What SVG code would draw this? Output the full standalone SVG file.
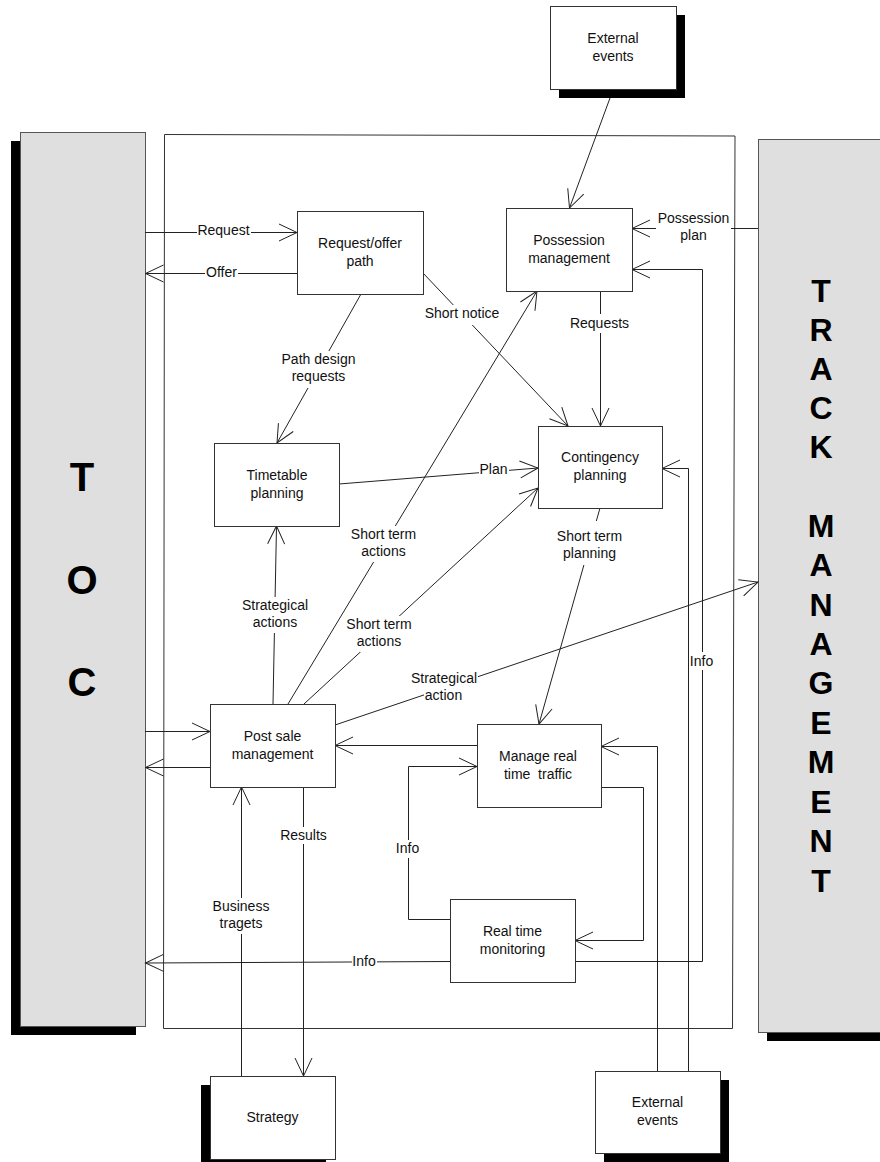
<svg xmlns="http://www.w3.org/2000/svg" width="880" height="1162" viewBox="0 0 880 1162">
<defs>
<style>
.box{fill:#fff;stroke:#333;stroke-width:1}
.shadow{fill:#000}
.panel{fill:#dfdfdf;stroke:#555;stroke-width:1}
.frame{fill:none;stroke:#333;stroke-width:1}
.t{font-family:"Liberation Sans",Arial,sans-serif;font-size:14px;fill:#111;text-anchor:middle;white-space:pre}
.big{font-family:"Liberation Sans",Arial,sans-serif;font-weight:bold;fill:#000;text-anchor:middle}
.c{fill:none;stroke:#222;stroke-width:1}
.a{marker-end:url(#ah)}
.bg{fill:#fff}
</style>
<marker id="ah" markerUnits="userSpaceOnUse" markerWidth="1" markerHeight="1" orient="auto" style="overflow:visible">
<path d="M-18,-8.5 L0,0 L-18,8.5" fill="none" stroke="#222" stroke-width="1"/>
</marker>
</defs>
<rect x="0" y="0" width="880" height="1162" fill="#fff"/>

<!-- side panels -->
<g id="toc">
<rect class="shadow" x="11" y="141" width="125" height="894"/>
<rect class="panel" x="20.5" y="132.5" width="125" height="894"/>
<text class="big" font-size="40" x="82" y="491">T</text>
<text class="big" font-size="40" x="82" y="594">O</text>
<text class="big" font-size="40" x="82" y="696">C</text>
</g>
<g id="track-management">
<rect class="shadow" x="767" y="148" width="125" height="893"/>
<rect class="panel" x="758.5" y="139.5" width="125" height="893"/>
<g class="big" font-size="32">
<text x="821" y="302">T</text>
<text x="821" y="341">R</text>
<text x="821" y="380">A</text>
<text x="821" y="419">C</text>
<text x="821" y="458">K</text>
<text x="821" y="537">M</text>
<text x="821" y="576">A</text>
<text x="821" y="616">N</text>
<text x="821" y="655">A</text>
<text x="821" y="694">G</text>
<text x="821" y="734">E</text>
<text x="821" y="773">M</text>
<text x="821" y="813">E</text>
<text x="821" y="852">N</text>
<text x="821" y="892">T</text>
</g>
</g>

<!-- boundary of the infrastructure manager -->
<polygon id="frame" class="frame" points="164.5,134.5 735,136 732.5,1028.5 163.5,1028.5"/>

<g id="connectors">
<line class="c a" x1="610" y1="98" x2="569.5" y2="208"/>
<line class="c a" x1="145" y1="232.5" x2="297" y2="232.5"/>
<line class="c a" x1="297" y1="273.5" x2="145.5" y2="273.5"/>
<line class="c a" x1="758" y1="228.5" x2="632" y2="228.5"/>
<polyline class="c a" points="575,961.5 702.5,961.5 702.5,269.5 632,269.5"/>
<line class="c a" x1="600.5" y1="291" x2="600.5" y2="426"/>
<line class="c a" x1="423" y1="273" x2="568" y2="426"/>
<line class="c a" x1="361" y1="294" x2="277" y2="443"/>
<line class="c a" x1="339" y1="484" x2="538" y2="468"/>
<line class="c a" x1="288" y1="704" x2="537" y2="291"/>
<line class="c a" x1="304" y1="704" x2="538" y2="488"/>
<line class="c a" x1="273" y1="704" x2="276.5" y2="526"/>
<line class="c a" x1="335" y1="725" x2="758" y2="582"/>
<polyline class="c a" points="688.5,1071 688.5,468.5 662,468.5"/>
<line class="c a" x1="600" y1="508" x2="539" y2="724"/>
<line class="c a" x1="477" y1="745.5" x2="335" y2="745.5"/>
<line class="c a" x1="145" y1="731.5" x2="210" y2="731.5"/>
<line class="c a" x1="210" y1="767.5" x2="145.5" y2="767.5"/>
<polyline class="c a" points="657.5,1071 657.5,746.5 601,746.5"/>
<polyline class="c a" points="601,787.5 643.5,787.5 643.5,940.5 575,940.5"/>
<polyline class="c a" points="450,919.5 408.5,919.5 408.5,766.5 477,766.5"/>
<line class="c a" x1="450" y1="961.5" x2="145.5" y2="963"/>
<line class="c a" x1="241.5" y1="1076" x2="241.5" y2="787"/>
<line class="c a" x1="303.5" y1="787" x2="303.5" y2="1076"/>

<!-- connector labels, each over a blank strip that breaks its line -->
<g id="labels">
<rect class="bg" x="197" y="223" width="54" height="16"/>
<text class="t" x="223.5" y="235">Request</text>
<rect class="bg" x="205" y="265" width="33" height="16"/>
<text class="t" x="221.5" y="277">Offer</text>
<rect class="bg" x="656" y="211" width="75" height="18"/>
<rect class="bg" x="679" y="229" width="29" height="16"/>
<text class="t" x="693.5" y="223">Possession</text>
<text class="t" x="693.5" y="240">plan</text>
<rect class="bg" x="424" y="305" width="77" height="20"/>
<text class="t" x="462" y="318">Short notice</text>
<rect class="bg" x="569" y="314" width="61" height="19"/>
<text class="t" x="599.5" y="328">Requests</text>
<rect class="bg" x="281" y="351" width="76" height="17"/>
<rect class="bg" x="291" y="368" width="55" height="20"/>
<text class="t" x="318.5" y="364">Path design</text>
<text class="t" x="318.5" y="381">requests</text>
<rect class="bg" x="479" y="461" width="30" height="16"/>
<text class="t" x="493.5" y="474">Plan</text>
<rect class="bg" x="350" y="526" width="67" height="17"/>
<rect class="bg" x="359" y="543" width="49" height="19"/>
<text class="t" x="383.5" y="539">Short term</text>
<text class="t" x="383.5" y="556">actions</text>
<rect class="bg" x="241" y="597" width="68" height="17"/>
<rect class="bg" x="250" y="614" width="50" height="19"/>
<text class="t" x="275" y="610">Strategical</text>
<text class="t" x="275" y="627">actions</text>
<rect class="bg" x="345" y="616" width="68" height="17"/>
<rect class="bg" x="354" y="633" width="50" height="19"/>
<text class="t" x="379" y="629">Short term</text>
<text class="t" x="379" y="646">actions</text>
<rect class="bg" x="410" y="670" width="68" height="17"/>
<rect class="bg" x="424" y="687" width="39" height="17"/>
<text class="t" x="444" y="683">Strategical</text>
<text class="t" x="443.5" y="700">action</text>
<rect class="bg" x="556" y="521" width="67" height="25"/>
<rect class="bg" x="562" y="546" width="55" height="19"/>
<text class="t" x="589.5" y="541">Short term</text>
<text class="t" x="589.5" y="558">planning</text>
<rect class="bg" x="691" y="652" width="22" height="18"/>
<text class="t" x="701.5" y="666">Info</text>
<rect class="bg" x="395" y="840" width="25" height="18"/>
<text class="t" x="407.5" y="853">Info</text>
<rect class="bg" x="352" y="953" width="25" height="17"/>
<text class="t" x="364" y="966">Info</text>
<rect class="bg" x="212" y="898" width="59" height="17"/>
<rect class="bg" x="215" y="915" width="53" height="19"/>
<text class="t" x="241" y="911">Business</text>
<text class="t" x="241" y="928">tragets</text>
<rect class="bg" x="279" y="827" width="49" height="17"/>
<text class="t" x="303.5" y="840">Results</text>
</g>
</g>

<!-- process boxes -->
<g id="external-events-top">
<rect class="shadow" x="559" y="15" width="126" height="83"/>
<rect class="box" x="550.5" y="6.5" width="126" height="83"/>
<text class="t" x="613" y="43">External</text>
<text class="t" x="613" y="61">events</text>
</g>
<g id="request-offer-path">
<rect class="box" x="297.5" y="211.5" width="126" height="83"/>
<text class="t" x="360" y="248">Request/offer</text>
<text class="t" x="360" y="266">path</text>
</g>
<g id="possession-management">
<rect class="box" x="506.5" y="208.5" width="126" height="83"/>
<text class="t" x="569" y="245">Possession</text>
<text class="t" x="569" y="263">management</text>
</g>
<g id="timetable-planning">
<rect class="box" x="214.5" y="443.5" width="125" height="83"/>
<text class="t" x="277" y="480">Timetable</text>
<text class="t" x="277" y="498">planning</text>
</g>
<g id="contingency-planning">
<rect class="box" x="538.5" y="426.5" width="124" height="82"/>
<text class="t" x="600" y="462">Contingency</text>
<text class="t" x="600" y="480">planning</text>
</g>
<g id="post-sale-management">
<rect class="box" x="210.5" y="704.5" width="125" height="83"/>
<text class="t" x="272.5" y="741">Post sale</text>
<text class="t" x="272.5" y="759">management</text>
</g>
<g id="manage-real-time-traffic">
<rect class="box" x="477.5" y="724.5" width="124" height="83"/>
<text class="t" x="538" y="761">Manage real</text>
<text class="t" x="538" y="779">time  traffic</text>
</g>
<g id="real-time-monitoring">
<rect class="box" x="450.5" y="899.5" width="125" height="83"/>
<text class="t" x="512.5" y="936">Real time</text>
<text class="t" x="512.5" y="954">monitoring</text>
</g>
<g id="strategy">
<rect class="shadow" x="201" y="1085" width="125" height="83"/>
<rect class="box" x="210.5" y="1076.5" width="125" height="83"/>
<text class="t" x="272.5" y="1122">Strategy</text>
</g>
<g id="external-events-bottom">
<rect class="shadow" x="604" y="1080" width="125" height="83"/>
<rect class="box" x="595.5" y="1071.5" width="125" height="82"/>
<text class="t" x="657.5" y="1107">External</text>
<text class="t" x="657.5" y="1125">events</text>
</g>
</svg>
